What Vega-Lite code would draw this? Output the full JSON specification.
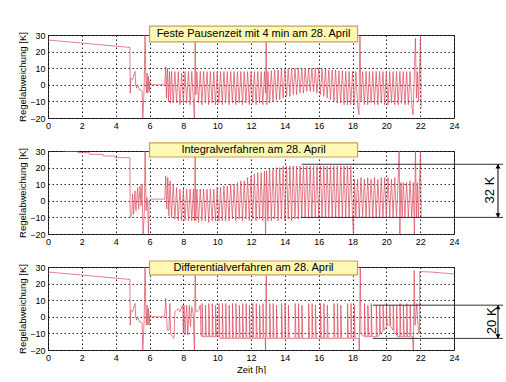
{
  "$schema": "https://vega.github.io/schema/vega-lite/v6.json",
  "background": "white",
  "padding": {"left": 17, "top": 24, "right": 0, "bottom": 0},
  "spacing": 33,
  "bounds": "flush",
  "config": {
    "font": "Liberation Sans",
    "view": {"stroke": "#333", "strokeWidth": 1},
    "axis": {"grid": true, "gridColor": "#000", "gridDash": [1.5, 2.5], "gridOpacity": 0.85, "gridWidth": 1, "domain": false, "ticks": false, "tickCount": 30, "labelFont": "Liberation Sans", "labelFontSize": 9, "labelColor": "#000", "labelPadding": 3, "labelFlush": false, "labelOverlap": false, "titleFont": "Liberation Sans", "titleFontSize": 9.5, "titleFontWeight": "normal", "titleColor": "#000", "titlePadding": 2}
  },
  "datasets": {
    "a": [
      {"t":0,"v":27},{"t":4.84,"v":22.5},{"t":4.86,"v":-5},{"t":4.9,"v":4},{"t":5.0,"v":3},{"t":5.1,"v":7},{"t":5.15,"v":8},{"t":5.18,"v":0},{"t":5.25,"v":-2},{"t":5.3,"v":0},{"t":5.4,"v":-3},{"t":5.5,"v":-3},{"t":5.57,"v":-4},{"t":5.6,"v":-22},{"t":5.68,"v":-3},{"t":5.74,"v":32},{"t":5.78,"v":5},{"t":5.82,"v":-5},{"t":5.86,"v":7},{"t":5.9,"v":-5},{"t":5.94,"v":5},{"t":5.98,"v":-4},{"t":6.02,"v":2},{"t":6.1,"v":0},{"t":6.9,"v":0},{"t":6.96,"v":11},{"t":7.0,"v":-8},{"t":7.06,"v":10},{"t":7.12,"v":-10},{"t":7.18,"v":8},{"t":7.24,"v":-11},
      {"t":7.3,"v":8},{"t":7.4,"v":-11},{"t":7.5,"v":8},{"t":7.6,"v":-11},{"t":7.7,"v":8},{"t":7.8,"v":-12},{"t":7.9,"v":7},{"t":8.0,"v":-11},{"t":8.1,"v":8},{"t":8.2,"v":-11},{"t":8.3,"v":8},{"t":8.4,"v":-12},{"t":8.5,"v":8},{"t":8.6,"v":-11},{"t":8.66,"v":-22},{"t":8.7,"v":32},{"t":8.74,"v":-6},{"t":8.8,"v":8},{"t":8.9,"v":-11},{"t":9.0,"v":8},{"t":9.1,"v":-12},{"t":9.2,"v":8},{"t":9.3,"v":-11},{"t":9.4,"v":8},{"t":9.5,"v":-12},{"t":9.6,"v":8},{"t":9.7,"v":-11},{"t":9.8,"v":8},{"t":9.9,"v":-12},{"t":10.0,"v":8},{"t":10.1,"v":-11},{"t":10.2,"v":8},{"t":10.3,"v":-12},{"t":10.4,"v":8},{"t":10.5,"v":-11},{"t":10.6,"v":8},{"t":10.7,"v":-12},{"t":10.8,"v":8},{"t":10.9,"v":-11},{"t":11.0,"v":8},{"t":11.1,"v":-12},{"t":11.2,"v":8},{"t":11.3,"v":-11},{"t":11.4,"v":8},{"t":11.5,"v":-12},{"t":11.6,"v":8},{"t":11.7,"v":-11},{"t":11.8,"v":8},{"t":11.9,"v":-12},{"t":12.0,"v":8},{"t":12.1,"v":-11},{"t":12.2,"v":8},{"t":12.3,"v":-12},{"t":12.4,"v":8},{"t":12.5,"v":-11},{"t":12.6,"v":8},{"t":12.7,"v":-12},{"t":12.8,"v":8},{"t":12.86,"v":-5},{"t":12.9,"v":32},{"t":12.94,"v":-12},
      {"t":13.0,"v":8},{"t":13.1,"v":-11},{"t":13.2,"v":8.5},{"t":13.3,"v":-10},{"t":13.4,"v":9},{"t":13.5,"v":-9},{"t":13.6,"v":9},{"t":13.7,"v":-9},{"t":13.8,"v":9.5},{"t":13.9,"v":-8},{"t":14.0,"v":9.5},{"t":14.1,"v":-7},{"t":14.2,"v":9.5},{"t":14.3,"v":-7},{"t":14.4,"v":10},{"t":14.5,"v":-6},{"t":14.6,"v":10},{"t":14.7,"v":-6},{"t":14.8,"v":10},{"t":14.9,"v":-5},{"t":15.0,"v":10},{"t":15.1,"v":-5},{"t":15.2,"v":10},{"t":15.3,"v":-4},{"t":15.4,"v":10},{"t":15.5,"v":-4},{"t":15.6,"v":10},{"t":15.7,"v":-4},{"t":15.8,"v":10},{"t":15.9,"v":-5},{"t":16.0,"v":10},{"t":16.1,"v":-6},{"t":16.2,"v":9.5},{"t":16.3,"v":-7},{"t":16.4,"v":9.5},{"t":16.5,"v":-8},{"t":16.6,"v":9},{"t":16.7,"v":-9},{"t":16.8,"v":9},{"t":16.9,"v":-10},{"t":17.0,"v":9},{"t":17.1,"v":-11},{"t":17.2,"v":8.5},{"t":17.3,"v":-11},{"t":17.4,"v":8.5},{"t":17.5,"v":-12},{"t":17.6,"v":8},{"t":17.7,"v":-12},{"t":17.8,"v":8},{"t":17.9,"v":-12},{"t":18.0,"v":8},{"t":18.1,"v":-12},{"t":18.2,"v":8},{"t":18.3,"v":-12},{"t":18.38,"v":-18},{"t":18.44,"v":32},{"t":18.5,"v":-10},
      {"t":18.6,"v":8},{"t":18.7,"v":-12},{"t":18.8,"v":8},{"t":18.9,"v":-12},{"t":19.0,"v":8},{"t":19.1,"v":-11},{"t":19.2,"v":8},{"t":19.3,"v":-12},{"t":19.4,"v":8},{"t":19.5,"v":-12},{"t":19.6,"v":8},{"t":19.7,"v":-11},{"t":19.8,"v":8},{"t":19.9,"v":-12},{"t":20.0,"v":8},{"t":20.1,"v":-12},{"t":20.2,"v":8},{"t":20.3,"v":-11},{"t":20.4,"v":8},{"t":20.5,"v":-12},{"t":20.6,"v":8},{"t":20.7,"v":-12},{"t":20.8,"v":8},{"t":20.9,"v":-11},{"t":21.0,"v":8},{"t":21.1,"v":-12},{"t":21.2,"v":8},{"t":21.3,"v":-12},{"t":21.4,"v":8},{"t":21.5,"v":-12},{"t":21.58,"v":-18},{"t":21.66,"v":8},{"t":21.72,"v":28},{"t":21.78,"v":-8},{"t":21.84,"v":8},{"t":21.9,"v":-10},{"t":21.96,"v":8},{"t":22.02,"v":32},{"t":22.06,"v":-14}
    ],
    "b": [
      {"t":0.98,"v":31},{"t":1.0,"v":29.8},{"t":1.75,"v":29.8},{"t":1.77,"v":29},{"t":2.45,"v":29},{"t":2.47,"v":28},{"t":3.25,"v":28},{"t":3.27,"v":27},{"t":3.95,"v":27},{"t":3.97,"v":26},{"t":4.84,"v":26},{"t":4.86,"v":-10},{"t":4.95,"v":-9},{"t":5.0,"v":4},{"t":5.06,"v":-8},{"t":5.14,"v":6},{"t":5.2,"v":-6},{"t":5.3,"v":8},{"t":5.36,"v":-5},{"t":5.44,"v":9},{"t":5.5,"v":-3},{"t":5.56,"v":10},{"t":5.62,"v":-22},{"t":5.7,"v":-5},{"t":5.74,"v":32},{"t":5.8,"v":-6},{"t":5.85,"v":2},{"t":5.9,"v":-4},{"t":5.94,"v":-22},{"t":5.98,"v":0},{"t":6.05,"v":1},{"t":6.9,"v":1},{"t":6.96,"v":15},{"t":7.02,"v":-5},{"t":7.08,"v":14},{"t":7.14,"v":-9},{"t":7.22,"v":12},{"t":7.3,"v":-10},{"t":7.4,"v":10},{"t":7.5,"v":-11},{"t":7.6,"v":8},{"t":7.7,"v":-12},
      {"t":7.8,"v":7},{"t":7.9,"v":-12},{"t":8.0,"v":7},{"t":8.1,"v":-12},{"t":8.2,"v":7},{"t":8.3,"v":-12},{"t":8.4,"v":7},{"t":8.5,"v":-12},{"t":8.6,"v":7},{"t":8.66,"v":-12},{"t":8.7,"v":32},{"t":8.74,"v":-12},{"t":8.8,"v":7},{"t":8.9,"v":-13},{"t":9.0,"v":7},{"t":9.1,"v":-12},{"t":9.2,"v":7},{"t":9.3,"v":-12},{"t":9.4,"v":7},{"t":9.5,"v":-13},{"t":9.6,"v":7},{"t":9.7,"v":-12},{"t":9.8,"v":7},{"t":9.9,"v":-12},{"t":10.0,"v":8},{"t":10.1,"v":-12},{"t":10.2,"v":8},{"t":10.3,"v":-12},{"t":10.4,"v":9},{"t":10.5,"v":-12},{"t":10.6,"v":9},{"t":10.7,"v":-12},{"t":10.8,"v":10},{"t":10.9,"v":-11},{"t":11.0,"v":10},{"t":11.1,"v":-12},{"t":11.2,"v":11},{"t":11.3,"v":-11},{"t":11.4,"v":12},{"t":11.5,"v":-12},{"t":11.6,"v":12},{"t":11.7,"v":-11},{"t":11.8,"v":14},{"t":11.9,"v":-12},{"t":12.0,"v":15},{"t":12.1,"v":-11},{"t":12.2,"v":16},{"t":12.3,"v":-12},{"t":12.4,"v":17},{"t":12.5,"v":-11},{"t":12.6,"v":17},{"t":12.7,"v":-12},{"t":12.8,"v":18},{"t":12.86,"v":-22},{"t":12.92,"v":18},
      {"t":13.0,"v":-12},{"t":13.1,"v":19},{"t":13.2,"v":-12},{"t":13.3,"v":19},{"t":13.4,"v":-11},{"t":13.5,"v":20},{"t":13.6,"v":-12},{"t":13.7,"v":20},{"t":13.8,"v":-11},{"t":13.9,"v":21},{"t":14.0,"v":-12},{"t":14.1,"v":21},{"t":14.2,"v":-11},{"t":14.3,"v":21},{"t":14.4,"v":-12},{"t":14.5,"v":21},{"t":14.6,"v":-11},{"t":14.7,"v":21},{"t":14.8,"v":-11},{"t":14.9,"v":21},{"t":15.0,"v":-10},{"t":15.1,"v":21},{"t":15.2,"v":-10},{"t":15.3,"v":21},{"t":15.4,"v":-10},{"t":15.5,"v":21},{"t":15.6,"v":-10},{"t":15.7,"v":21},{"t":15.8,"v":-10},{"t":15.9,"v":21},{"t":16.0,"v":-10},{"t":16.1,"v":21},{"t":16.2,"v":-10},{"t":16.3,"v":21},{"t":16.4,"v":-10},{"t":16.5,"v":21},{"t":16.6,"v":-10},{"t":16.7,"v":21},{"t":16.8,"v":-10},{"t":16.9,"v":21},{"t":17.0,"v":-10},{"t":17.1,"v":21},{"t":17.2,"v":-10},{"t":17.3,"v":21},{"t":17.4,"v":-10},{"t":17.5,"v":21},{"t":17.6,"v":-10},{"t":17.7,"v":21},{"t":17.8,"v":-10},{"t":17.9,"v":21},{"t":18.0,"v":-10},{"t":18.06,"v":-22},{"t":18.12,"v":13},
      {"t":18.2,"v":-10},{"t":18.3,"v":13},{"t":18.4,"v":-10},{"t":18.5,"v":14},{"t":18.6,"v":-10},{"t":18.7,"v":13},{"t":18.8,"v":-10},{"t":18.9,"v":14},{"t":19.0,"v":-10},{"t":19.1,"v":13},{"t":19.2,"v":-10},{"t":19.3,"v":14},{"t":19.4,"v":-10},{"t":19.5,"v":13},{"t":19.6,"v":-10},{"t":19.7,"v":14},{"t":19.8,"v":-10},{"t":19.9,"v":14},{"t":20.0,"v":-10},{"t":20.1,"v":14},{"t":20.2,"v":-10},{"t":20.3,"v":13},{"t":20.4,"v":-10},{"t":20.5,"v":14},{"t":20.6,"v":-10},{"t":20.7,"v":13},{"t":20.76,"v":32},{"t":20.8,"v":-20},{"t":20.86,"v":11},{"t":20.94,"v":-10},{"t":21.0,"v":11},{"t":21.1,"v":-10},{"t":21.2,"v":11},{"t":21.3,"v":-10},{"t":21.4,"v":12},{"t":21.5,"v":-10},{"t":21.6,"v":11},{"t":21.66,"v":-22},{"t":21.72,"v":32},{"t":21.78,"v":-10},{"t":21.84,"v":11},{"t":21.9,"v":-10},{"t":21.96,"v":11},{"t":22.02,"v":32},{"t":22.06,"v":-10}
    ],
    "c": [
      {"t":0,"v":27},{"t":4.84,"v":22.5},{"t":4.86,"v":-5},{"t":4.9,"v":4},{"t":5.0,"v":3},{"t":5.1,"v":7},{"t":5.15,"v":8},{"t":5.18,"v":0},{"t":5.25,"v":-2},{"t":5.3,"v":0},{"t":5.4,"v":-3},{"t":5.5,"v":-3},{"t":5.57,"v":-4},{"t":5.6,"v":-22},{"t":5.68,"v":-3},{"t":5.74,"v":32},{"t":5.78,"v":5},{"t":5.82,"v":-5},{"t":5.86,"v":7},{"t":5.9,"v":-5},{"t":5.94,"v":5},{"t":5.98,"v":-5},{"t":6.02,"v":1},{"t":6.1,"v":0},{"t":6.9,"v":0},{"t":6.96,"v":11},{"t":7.0,"v":3},{"t":7.05,"v":-8},{"t":7.15,"v":-8},{"t":7.2,"v":8},{"t":7.25,"v":-10},{"t":7.35,"v":-12},{"t":7.45,"v":-13},{"t":7.5,"v":3},{"t":7.6,"v":4},{"t":7.7,"v":5},{"t":7.8,"v":3},{"t":7.9,"v":6},{"t":7.96,"v":7},{"t":8.0,"v":-10},{"t":8.04,"v":7},{"t":8.1,"v":-11},{"t":8.2,"v":7},{"t":8.26,"v":-11},{"t":8.36,"v":7},{"t":8.42,"v":-6},{"t":8.5,"v":6},{"t":8.58,"v":2},{"t":8.66,"v":-22},{"t":8.7,"v":32},{"t":8.74,"v":3},{"t":8.8,"v":3},{"t":8.9,"v":4},{"t":9.0,"v":7},{"t":9.04,"v":-11},
      {"t":9.1,"v":-12},{"t":9.11,"v":8},{"t":9.16,"v":-12},{"t":9.3,"v":-12},{"t":9.31,"v":7},{"t":9.36,"v":-12},{"t":9.5,"v":-12},{"t":9.51,"v":8},{"t":9.56,"v":-12},{"t":9.7,"v":-12},{"t":9.71,"v":8},{"t":9.76,"v":-12},{"t":9.9,"v":-12},{"t":9.91,"v":7},{"t":9.96,"v":-12},{"t":10.1,"v":-12},{"t":10.11,"v":8},{"t":10.16,"v":-13},{"t":10.3,"v":-13},{"t":10.31,"v":8},{"t":10.36,"v":-13},{"t":10.5,"v":-13},{"t":10.51,"v":8},{"t":10.56,"v":-13},{"t":10.7,"v":-13},{"t":10.71,"v":7},{"t":10.76,"v":-13},{"t":10.9,"v":-13},{"t":10.91,"v":8},{"t":10.96,"v":-13},{"t":11.1,"v":-13},{"t":11.11,"v":8},{"t":11.16,"v":-13},{"t":11.3,"v":-13},{"t":11.31,"v":7},{"t":11.36,"v":-13},{"t":11.5,"v":-13},{"t":11.51,"v":8},{"t":11.56,"v":-13},{"t":11.7,"v":-13},{"t":11.71,"v":8},{"t":11.76,"v":-13},{"t":11.9,"v":-13},{"t":11.91,"v":7},{"t":11.96,"v":-13},{"t":12.1,"v":-13},{"t":12.11,"v":8},{"t":12.16,"v":-13},{"t":12.3,"v":-13},{"t":12.31,"v":8},{"t":12.36,"v":-13},{"t":12.5,"v":-13},{"t":12.51,"v":7},{"t":12.56,"v":-13},{"t":12.7,"v":-13},{"t":12.71,"v":8},{"t":12.76,"v":-13},{"t":12.84,"v":-13},{"t":12.86,"v":-22},{"t":12.9,"v":32},{"t":12.94,"v":-13},
      {"t":13.1,"v":-13},{"t":13.11,"v":8},{"t":13.16,"v":-13},{"t":13.3,"v":-13},{"t":13.31,"v":8},{"t":13.36,"v":-13},{"t":13.5,"v":-13},{"t":13.51,"v":7},{"t":13.56,"v":-13},{"t":13.8,"v":-13},{"t":13.81,"v":8},{"t":13.86,"v":-13},{"t":14.0,"v":-13},{"t":14.01,"v":8},{"t":14.06,"v":-13},{"t":14.2,"v":-13},{"t":14.21,"v":7},{"t":14.26,"v":-13},{"t":14.6,"v":-13},{"t":14.61,"v":8},{"t":14.66,"v":-13},{"t":14.8,"v":-13},{"t":14.81,"v":8},{"t":14.86,"v":-13},{"t":15.0,"v":-13},{"t":15.01,"v":7},{"t":15.06,"v":-13},{"t":15.4,"v":-13},{"t":15.41,"v":8},{"t":15.46,"v":-13},{"t":15.6,"v":-13},{"t":15.61,"v":8},{"t":15.66,"v":-13},{"t":15.8,"v":-13},{"t":15.81,"v":7},{"t":15.86,"v":-13},{"t":16.1,"v":-13},{"t":16.11,"v":8},{"t":16.16,"v":-13},{"t":16.3,"v":-13},{"t":16.31,"v":8},{"t":16.36,"v":-13},{"t":16.5,"v":-13},{"t":16.51,"v":7},{"t":16.56,"v":-13},{"t":16.9,"v":-13},{"t":16.91,"v":8},{"t":16.96,"v":-13},{"t":17.1,"v":-13},{"t":17.11,"v":8},{"t":17.16,"v":-13},{"t":17.3,"v":-13},{"t":17.31,"v":7},{"t":17.36,"v":-13},{"t":17.7,"v":-13},{"t":17.71,"v":8},{"t":17.76,"v":-13},{"t":17.9,"v":-13},{"t":17.91,"v":8},{"t":17.96,"v":-13},{"t":18.1,"v":-13},{"t":18.11,"v":7},{"t":18.16,"v":-13},{"t":18.38,"v":-13},{"t":18.4,"v":-22},{"t":18.46,"v":32},{"t":18.5,"v":-10},
      {"t":18.7,"v":-12},{"t":18.71,"v":8},{"t":18.76,"v":-12},{"t":18.9,"v":-12},{"t":18.91,"v":7},{"t":18.96,"v":-12},{"t":19.1,"v":-12},{"t":19.11,"v":8},{"t":19.16,"v":-12},{"t":19.4,"v":-12},{"t":19.41,"v":7},{"t":19.46,"v":-12},{"t":19.6,"v":-11},{"t":19.61,"v":7},{"t":19.66,"v":-10},{"t":19.8,"v":-9},{"t":19.81,"v":7},{"t":19.86,"v":-8},{"t":20.0,"v":-6},{"t":20.01,"v":7},{"t":20.06,"v":-5},{"t":20.2,"v":-5},{"t":20.21,"v":7},{"t":20.26,"v":-6},{"t":20.4,"v":-8},{"t":20.41,"v":7},{"t":20.46,"v":-9},{"t":20.6,"v":-11},{"t":20.61,"v":7},{"t":20.66,"v":-12},{"t":20.8,"v":-12},{"t":20.81,"v":8},{"t":20.86,"v":-12},{"t":21.0,"v":-12},{"t":21.01,"v":7},{"t":21.06,"v":-12},{"t":21.2,"v":-12},{"t":21.21,"v":8},{"t":21.26,"v":-12},{"t":21.4,"v":-12},{"t":21.41,"v":7},{"t":21.46,"v":-12},{"t":21.55,"v":-12},{"t":21.6,"v":-22},{"t":21.65,"v":28},{"t":21.7,"v":-5},{"t":21.8,"v":8},{"t":21.9,"v":-10},{"t":21.96,"v":-10},{"t":21.98,"v":27.2},{"t":22.6,"v":27},{"t":24,"v":25.8}
    ]
  },
  "vconcat": [
    {
      "width": 406, "height": 83,
      "layer": [
        {"data": {"name": "a"}, "mark": {"type": "line", "color": "#d9485a", "strokeWidth": 0.7, "clip": true},
         "encoding": {
           "x": {"field": "t", "type": "quantitative", "scale": {"domain": [0, 24], "nice": false}, "axis": {"values": [0,2,4,6,8,10,12,14,16,18,20,22,24], "tickCount": 30, "title": null}},
           "y": {"field": "v", "type": "quantitative", "scale": {"domain": [-20, 30], "nice": false}, "axis": {"values": [-20,-10,0,10,20,30], "tickCount": 30, "title": "Regelabweichung [K]"}}}},
        {"data": {"values": [{}]}, "mark": {"type": "rect", "fill": "#fdf8b4", "stroke": "#c8a05a", "strokeWidth": 1.2, "clip": false},
         "encoding": {"x": {"datum": 6}, "x2": {"datum": 18.3}, "y": {"datum": 25.8}, "y2": {"datum": 35.4}}},
        {"data": {"values": [{}]}, "mark": {"type": "text", "text": "Feste Pausenzeit mit 4 min am 28. April", "fontSize": 11, "font": "Liberation Sans", "color": "#000"},
         "encoding": {"x": {"datum": 12.15}, "y": {"datum": 30.6}}}
      ]
    },
    {
      "width": 406, "height": 83,
      "layer": [
        {"data": {"name": "b"}, "mark": {"type": "line", "color": "#d9485a", "strokeWidth": 0.7, "clip": true},
         "encoding": {
           "x": {"field": "t", "type": "quantitative", "scale": {"domain": [0, 24], "nice": false}, "axis": {"values": [0,2,4,6,8,10,12,14,16,18,20,22,24], "tickCount": 30, "title": null}},
           "y": {"field": "v", "type": "quantitative", "scale": {"domain": [-20, 30], "nice": false}, "axis": {"values": [-20,-10,0,10,20,30], "tickCount": 30, "title": "Regelabweichung [K]"}}}},
        {"data": {"values": [{}]}, "mark": {"type": "rect", "fill": "#fdf8b4", "stroke": "#c8a05a", "strokeWidth": 1.2, "clip": false},
         "encoding": {"x": {"datum": 6}, "x2": {"datum": 18.3}, "y": {"datum": 26.4}, "y2": {"datum": 34.9}}},
        {"data": {"values": [{}]}, "mark": {"type": "text", "text": "Integralverfahren am 28. April", "fontSize": 11, "font": "Liberation Sans", "color": "#000"},
         "encoding": {"x": {"datum": 12.15}, "y": {"datum": 30.6}}},
        {"data": {"values": [{}]}, "mark": {"type": "rule", "color": "#333", "strokeWidth": 1, "clip": false},
         "encoding": {"x": {"datum": 15}, "x2": {"datum": 26.9}, "y": {"datum": 22}}},
        {"data": {"values": [{}]}, "mark": {"type": "rule", "color": "#333", "strokeWidth": 1, "clip": false},
         "encoding": {"x": {"datum": 15}, "x2": {"datum": 26.9}, "y": {"datum": -10}}},
        {"data": {"values": [{}]}, "mark": {"type": "rule", "color": "#000", "strokeWidth": 1, "clip": false},
         "encoding": {"x": {"datum": 26.6}, "y": {"datum": -10}, "y2": {"datum": 22}}},
        {"data": {"values": [{}]}, "mark": {"type": "point", "shape": "triangle-up", "filled": true, "color": "#000", "size": 25, "opacity": 1, "clip": false},
         "encoding": {"x": {"datum": 26.6}, "y": {"datum": 20.8}}},
        {"data": {"values": [{}]}, "mark": {"type": "point", "shape": "triangle-down", "filled": true, "color": "#000", "size": 25, "opacity": 1, "clip": false},
         "encoding": {"x": {"datum": 26.6}, "y": {"datum": -8.8}}},
        {"data": {"values": [{}]}, "mark": {"type": "text", "text": "32 K", "angle": 270, "fontSize": 13, "font": "Liberation Sans", "color": "#000", "clip": false},
         "encoding": {"x": {"datum": 26.15}, "y": {"datum": 6.5}}}
      ]
    },
    {
      "width": 406, "height": 83,
      "layer": [
        {"data": {"name": "c"}, "mark": {"type": "line", "color": "#d9485a", "strokeWidth": 0.7, "clip": true},
         "encoding": {
           "x": {"field": "t", "type": "quantitative", "scale": {"domain": [0, 24], "nice": false}, "axis": {"values": [0,2,4,6,8,10,12,14,16,18,20,22,24], "tickCount": 30, "title": "Zeit [h]"}},
           "y": {"field": "v", "type": "quantitative", "scale": {"domain": [-20, 30], "nice": false}, "axis": {"values": [-20,-10,0,10,20,30], "tickCount": 30, "title": "Regelabweichung [K]"}}}},
        {"data": {"values": [{}]}, "mark": {"type": "rect", "fill": "#fdf8b4", "stroke": "#c8a05a", "strokeWidth": 1.2, "clip": false},
         "encoding": {"x": {"datum": 6}, "x2": {"datum": 18.3}, "y": {"datum": 25.2}, "y2": {"datum": 33.6}}},
        {"data": {"values": [{}]}, "mark": {"type": "text", "text": "Differentialverfahren am 28. April", "fontSize": 11, "font": "Liberation Sans", "color": "#000"},
         "encoding": {"x": {"datum": 12.15}, "y": {"datum": 29.4}}},
        {"data": {"values": [{}]}, "mark": {"type": "rule", "color": "#333", "strokeWidth": 1, "clip": false},
         "encoding": {"x": {"datum": 19.2}, "x2": {"datum": 26.9}, "y": {"datum": 7}}},
        {"data": {"values": [{}]}, "mark": {"type": "rule", "color": "#333", "strokeWidth": 1, "clip": false},
         "encoding": {"x": {"datum": 19.2}, "x2": {"datum": 26.9}, "y": {"datum": -13}}},
        {"data": {"values": [{}]}, "mark": {"type": "rule", "color": "#000", "strokeWidth": 1, "clip": false},
         "encoding": {"x": {"datum": 26.6}, "y": {"datum": -13}, "y2": {"datum": 7}}},
        {"data": {"values": [{}]}, "mark": {"type": "point", "shape": "triangle-up", "filled": true, "color": "#000", "size": 25, "opacity": 1, "clip": false},
         "encoding": {"x": {"datum": 26.6}, "y": {"datum": 5.8}}},
        {"data": {"values": [{}]}, "mark": {"type": "point", "shape": "triangle-down", "filled": true, "color": "#000", "size": 25, "opacity": 1, "clip": false},
         "encoding": {"x": {"datum": 26.6}, "y": {"datum": -11.8}}},
        {"data": {"values": [{}]}, "mark": {"type": "text", "text": "20 K", "angle": 270, "fontSize": 13, "font": "Liberation Sans", "color": "#000", "clip": false},
         "encoding": {"x": {"datum": 26.25}, "y": {"datum": -2.4}}}
      ]
    }
  ]
}
